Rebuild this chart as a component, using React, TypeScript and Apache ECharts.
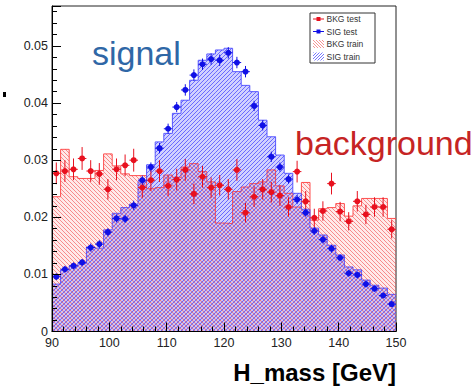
import React, { useEffect, useRef } from "react";
import * as echarts from "echarts";

// Histogram binning (40 bins, 90-150 GeV)
const xMin = 90;
const xMax = 150;
const binWidth = 1.5;
const nBins = 40;

const yMax = 0.057;

const bkgTrain = [
  0.0236, 0.0319, 0.0271, 0.0268, 0.0268, 0.0282, 0.0311, 0.029, 0.0276, 0.0273,
  0.0273, 0.025, 0.0252, 0.0274, 0.027, 0.0288, 0.0294, 0.028, 0.0262, 0.019,
  0.0189, 0.0245, 0.0253, 0.0259, 0.0262, 0.0283, 0.0255, 0.0242, 0.0218, 0.0261,
  0.0195, 0.0215, 0.0217, 0.0224, 0.0202, 0.022, 0.0233, 0.0233, 0.0233, 0.0198,
];

const sigTrain = [
  0.0083, 0.0108, 0.0115, 0.0119, 0.0148, 0.0146, 0.0178, 0.0207, 0.0217, 0.0223,
  0.0262, 0.0292, 0.0332, 0.0347, 0.0382, 0.0405, 0.044, 0.0475, 0.0486, 0.0493,
  0.0496, 0.0455, 0.0431, 0.042, 0.037, 0.0341, 0.0309, 0.0277, 0.0242, 0.0214,
  0.0181, 0.0169, 0.0151, 0.0134, 0.0113, 0.0108, 0.009, 0.0081, 0.0076, 0.0065,
];

const bkgTest = [
  0.0277, 0.0281, 0.0284, 0.0303, 0.0281, 0.0276, 0.0249, 0.0284, 0.0291, 0.03,
  0.0252, 0.0265, 0.0281, 0.0255, 0.0266, 0.0283, 0.0241, 0.0271, 0.0252, 0.0256,
  0.0249, 0.0283, 0.0208, 0.0236, 0.0249, 0.0244, 0.0238, 0.0218, 0.028, 0.0228,
  0.0199, 0.0211, 0.0259, 0.021, 0.0193, 0.0228, 0.0205, 0.0218, 0.0218, 0.0179,
];

const bkgTestErr = [
  0.0019, 0.0019, 0.0019, 0.002, 0.0019, 0.0019, 0.0018, 0.0019, 0.0019, 0.002,
  0.0018, 0.0019, 0.0019, 0.0018, 0.0019, 0.0019, 0.0018, 0.0019, 0.0018, 0.0018,
  0.0018, 0.0019, 0.0017, 0.0018, 0.0018, 0.0018, 0.0018, 0.0017, 0.0019, 0.0018,
  0.0016, 0.0017, 0.0019, 0.0017, 0.0016, 0.0018, 0.0017, 0.0017, 0.0017, 0.0016,
];

const sigTest = [
  0.0096, 0.0109, 0.0115, 0.0121, 0.0147, 0.0153, 0.0174, 0.0198, 0.0197, 0.0221,
  0.0265, 0.0288, 0.0321, 0.0355, 0.0393, 0.0423, 0.0449, 0.0468, 0.0477, 0.0475,
  0.0488, 0.0471, 0.0455, 0.0395, 0.0361, 0.0306, 0.0288, 0.0267, 0.0231, 0.0208,
  0.0176, 0.0161, 0.0145, 0.0129, 0.0102, 0.0099, 0.0083, 0.0075, 0.0063, 0.0048,
];

const sigTestErr = [
  0.0006, 0.0006, 0.0006, 0.0006, 0.0007, 0.0007, 0.0007, 0.0007, 0.0007, 0.0008,
  0.0008, 0.0008, 0.0009, 0.0009, 0.0009, 0.001, 0.001, 0.001, 0.001, 0.001,
  0.001, 0.001, 0.001, 0.0009, 0.0009, 0.0009, 0.0008, 0.0008, 0.0008, 0.0007,
  0.0007, 0.0007, 0.0007, 0.0006, 0.0006, 0.0006, 0.0006, 0.0005, 0.0005, 0.0005,
];

const legendLabels = ["BKG test", "SIG test", "BKG train", "SIG train"];

const RED = "#e8101e";
const BLUE = "#1010e6";
const RED_HATCH = "rgba(240,60,60,0.55)";
const BLUE_HATCH = "rgba(60,60,255,0.7)";
const RED_TINT = "rgba(255,80,80,0.12)";
const BLUE_TINT = "rgba(90,90,255,0.28)";
const FONT = "'Liberation Sans', Arial, Helvetica, sans-serif";

// Hatched rectangle shape: diagonal lines aligned to a global grid so bins join seamlessly
echarts.graphic.registerShape(
  "hatchRect",
  echarts.graphic.extendShape({
    shape: { x: 0, y: 0, width: 0, height: 0, dir: 1, gap: 4 },
    buildPath(ctx: any, shape: any) {
      const x0 = shape.x;
      const x1 = shape.x + shape.width;
      const yt = shape.y;
      const yb = shape.y + shape.height;
      const g = shape.gap;
      if (shape.width <= 0 || shape.height <= 0) return;
      if (shape.dir === 1) {
        const cStart = Math.ceil((yt - x1) / g) * g;
        for (let c = cStart; c <= yb - x0; c += g) {
          const xa = Math.max(x0, yt - c);
          const xb = Math.min(x1, yb - c);
          if (xb > xa) {
            ctx.moveTo(xa, xa + c);
            ctx.lineTo(xb, xb + c);
          }
        }
      } else {
        const cStart = Math.ceil((x0 + yt) / g) * g;
        for (let c = cStart; c <= x1 + yb; c += g) {
          const xa = Math.max(x0, c - yb);
          const xb = Math.min(x1, c - yt);
          if (xb > xa) {
            ctx.moveTo(xa, c - xa);
            ctx.lineTo(xb, c - xb);
          }
        }
      }
    },
  }) as any
);

function stepData(vals: number[]) {
  const out: number[][] = vals.map((v, i) => [xMin + i * binWidth, v]);
  out.push([xMin + nBins * binWidth, vals[vals.length - 1]]);
  return out;
}

function binData(vals: number[]) {
  return vals.map((v, i) => [xMin + i * binWidth, xMin + (i + 1) * binWidth, v]);
}

function pointData(vals: number[], errs: number[]) {
  return vals.map((v, i) => [xMin + (i + 0.5) * binWidth, v, errs[i]]);
}

function hatchRenderer(color: string, dir: number) {
  return (params: any, api: any) => {
    const a = api.coord([api.value(0), api.value(2)]);
    const b = api.coord([api.value(1), 0]);
    return {
      type: "hatchRect",
      shape: { x: a[0], y: a[1], width: b[0] - a[0], height: b[1] - a[1], dir, gap: 4 },
      style: { stroke: color, lineWidth: 1, fill: null },
    };
  };
}

function errRenderer(color: string) {
  return (params: any, api: any) => {
    const x = api.value(0);
    const y = api.value(1);
    const e = api.value(2);
    const p = api.coord([x, y]);
    const pt = api.coord([x, y + e]);
    const pb = api.coord([x, y - e]);
    const pl = api.coord([x - binWidth / 2, y]);
    const pr = api.coord([x + binWidth / 2, y]);
    return {
      type: "group",
      children: [
        { type: "line", shape: { x1: pt[0], y1: pt[1], x2: pb[0], y2: pb[1] }, style: { stroke: color, lineWidth: 1 } },
        { type: "line", shape: { x1: pl[0], y1: p[1], x2: pr[0], y2: p[1] }, style: { stroke: color, lineWidth: 1 } },
        { type: "circle", shape: { cx: p[0], cy: p[1], r: 3 }, style: { fill: color } },
      ],
    };
  };
}

export default function App() {
  const ref = useRef<HTMLDivElement>(null);
  useEffect(() => {
    if (!ref.current) return;
    const chart = echarts.init(ref.current, null, { renderer: "svg" });
    const lx = 310;
    const ly = 13;
    const rowY = [19, 31.5, 44, 56.5];
    const option: any = {
      animation: false,
      backgroundColor: "#fff",
      grid: {
        left: 52,
        right: 77,
        top: 6,
        bottom: 56.5,
        show: true,
        borderColor: "#222",
        borderWidth: 1,
        backgroundColor: "transparent",
        outerBoundsMode: "none",
      },
      xAxis: {
        type: "value",
        min: xMin,
        max: xMax,
        interval: 10,
        z: 10,
        axisLine: { show: true, lineStyle: { color: "#000", width: 1 } },
        axisTick: { show: true, inside: true, length: 9, lineStyle: { color: "#000" } },
        minorTick: { show: true, splitNumber: 5, length: 5, lineStyle: { color: "#000" } },
        splitLine: { show: false },
        axisLabel: { margin: 5.5, fontSize: 12.5, lineHeight: 11, color: "#222", fontFamily: FONT },
      },
      yAxis: {
        type: "value",
        min: 0,
        max: yMax,
        interval: 0.01,
        z: 10,
        axisLine: { show: true, lineStyle: { color: "#000", width: 1 } },
        axisTick: { show: true, inside: true, length: 9, lineStyle: { color: "#000" } },
        minorTick: { show: true, splitNumber: 5, length: 5, lineStyle: { color: "#000" } },
        splitLine: { show: false },
        axisLabel: {
          margin: 4,
          fontSize: 12.5,
          lineHeight: 11,
          color: "#222",
          fontFamily: FONT,
          showMaxLabel: false,
          formatter: (v: number) => (v === 0 ? "0" : v.toFixed(2)),
        },
      },
      series: [
        {
          name: "BKG train",
          type: "line",
          step: "end",
          data: stepData(bkgTrain),
          symbol: "none",
          lineStyle: { color: "#ff5050", width: 1 },
          areaStyle: { color: RED_TINT, opacity: 1 },
          z: 1,
        },
        {
          name: "SIG train",
          type: "line",
          step: "end",
          data: stepData(sigTrain),
          symbol: "none",
          lineStyle: { color: "#5a5aff", width: 1 },
          areaStyle: { color: BLUE_TINT, opacity: 1 },
          z: 1,
        },
        {
          name: "BKG train hatch",
          type: "custom",
          data: binData(bkgTrain),
          encode: { x: [0, 1], y: 2 },
          renderItem: hatchRenderer(RED_HATCH, 1),
          silent: true,
          z: 2,
        },
        {
          name: "SIG train hatch",
          type: "custom",
          data: binData(sigTrain),
          encode: { x: [0, 1], y: 2 },
          renderItem: hatchRenderer(BLUE_HATCH, -1),
          silent: true,
          z: 2,
        },
        {
          name: "BKG test",
          type: "custom",
          data: pointData(bkgTest, bkgTestErr),
          encode: { x: 0, y: 1 },
          renderItem: errRenderer(RED),
          z: 5,
        },
        {
          name: "SIG test",
          type: "custom",
          data: pointData(sigTest, sigTestErr),
          encode: { x: 0, y: 1 },
          renderItem: errRenderer(BLUE),
          z: 6,
        },
      ],
      graphic: [
        { type: "rect", z: 20, shape: { x: 3, y: 92, width: 3, height: 5 }, style: { fill: "#000" } },
        {
          type: "text", z: 20, x: 92, y: 53,
          style: { text: "signal", fontSize: 34, fontFamily: FONT, fill: "#2f67a6", verticalAlign: "middle", align: "left" },
        },
        {
          type: "text", z: 20, x: 295, y: 143,
          style: { text: "background", fontSize: 34, fontFamily: FONT, fill: "#c62424", verticalAlign: "middle", align: "left" },
        },
        {
          type: "text", z: 20, x: 396, y: 372,
          style: { text: "H_mass [GeV]", fontSize: 24, fontWeight: "bold", fontFamily: FONT, fill: "#000", verticalAlign: "middle", align: "right" },
        },
        {
          type: "rect", z: 20, shape: { x: lx, y: ly, width: 65, height: 50 },
          style: { fill: "#fff", stroke: "#333", lineWidth: 1 },
        },
        { type: "line", z: 21, shape: { x1: 313, y1: rowY[0], x2: 324, y2: rowY[0] }, style: { stroke: RED, lineWidth: 1 } },
        { type: "rect", z: 21, shape: { x: 316.5, y: rowY[0] - 2, width: 4, height: 4 }, style: { fill: RED } },
        { type: "line", z: 21, shape: { x1: 313, y1: rowY[1], x2: 324, y2: rowY[1] }, style: { stroke: BLUE, lineWidth: 1 } },
        { type: "rect", z: 21, shape: { x: 316.5, y: rowY[1] - 2, width: 4, height: 4 }, style: { fill: BLUE } },
        {
          type: "hatchRect", z: 21, shape: { x: 313, y: rowY[2] - 4, width: 11, height: 8, dir: 1, gap: 3 },
          style: { stroke: RED_HATCH, lineWidth: 1, fill: null },
        },
        {
          type: "hatchRect", z: 21, shape: { x: 313, y: rowY[3] - 4, width: 11, height: 8, dir: -1, gap: 3 },
          style: { stroke: BLUE_HATCH, lineWidth: 1, fill: null },
        },
        ...legendLabels.map((t, i) => ({
          type: "text", z: 21, x: 326.5, y: rowY[i],
          style: { text: t, fontSize: 8.5, fontFamily: FONT, fill: "#333", verticalAlign: "middle", align: "left" },
        })),
      ],
    };
    chart.setOption(option);
    return () => chart.dispose();
  }, []);
  return (
    <div
      ref={ref}
      style={{ position: "fixed", left: 0, top: 0, width: 473, height: 388, background: "#fff" }}
    />
  );
}
